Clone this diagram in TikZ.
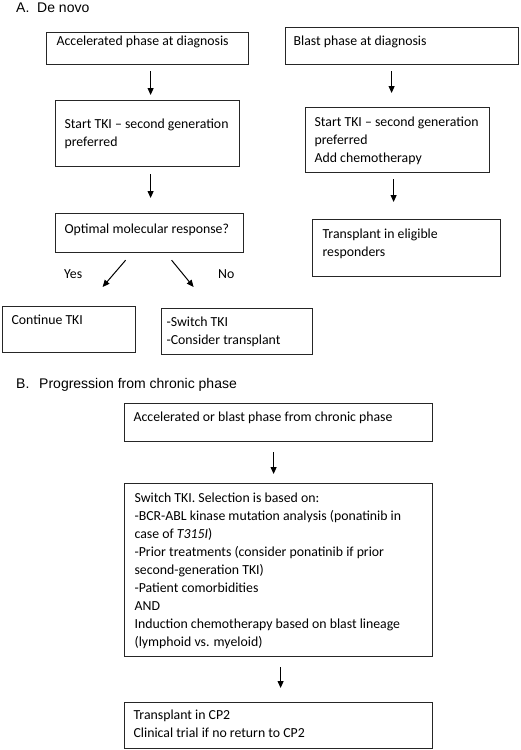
\documentclass[tikz,border=0pt]{standalone}
\usepackage{fontspec}
\setmainfont{Carlito}
\newfontfamily\arialf{Liberation Sans}
\usetikzlibrary{arrows.meta,calc}
\newcommand{\bt}[5]{\parbox[c][#2][t]{#1}{\vspace*{\dimexpr#3-12.6pt\relax}\raggedright\leftskip=#4\relax\noindent\strut #5}}
\definecolor{edge}{gray}{0.15}
\tikzset{
  box/.style={draw=edge, line width=1.2pt, inner sep=0pt, anchor=north west, font=\fontsize{13.8pt}{18pt}\selectfont},
  arr/.style={line width=1pt, -{Triangle[length=7pt,width=6pt]}},
  lbl/.style={inner sep=0pt, anchor=base west, font=\fontsize{13.8pt}{18pt}\selectfont},
  ttl/.style={inner sep=0pt, anchor=base west, font=\arialf\fontsize{14pt}{17pt}\selectfont}
}
\begin{document}
\begin{tikzpicture}[x=1pt,y=-1pt]
\useasboundingbox (0,0) rectangle (520,750);
% titles
\node[ttl] (ta) at (16,12) {A.\hspace{7.8pt}De novo};
\node[ttl] (tb) at (16,388) {B.\hspace{9.8pt}Progression from chronic phase};
% section A left
\node[box] (a1) at (46,32) {\bt{202pt}{32pt}{13pt}{10pt}{Accelerated phase at diagnosis}};
\node[box] (a2) at (55,100) {\bt{184pt}{66pt}{28pt}{9pt}{Start TKI – second generation\\preferred}};
\node[box] (a3) at (55,213) {\bt{188pt}{39pt}{20pt}{9pt}{Optimal molecular response?}};
\node[box] (cont) at (2,306) {\bt{133pt}{46pt}{18pt}{9pt}{Continue TKI}};
\node[box] (sw) at (161,308) {\bt{151pt}{46pt}{18pt}{5pt}{-Switch TKI\\-Consider transplant}};
% section A right
\node[box] (bl) at (285,27) {\bt{233pt}{37pt}{18pt}{8pt}{Blast phase at diagnosis}};
\node[box] (a2r) at (305,107) {\bt{184pt}{65pt}{19pt}{9pt}{Start TKI – second generation\\preferred\\Add chemotherapy}};
\node[box] (tr) at (312,219) {\bt{188pt}{57pt}{19pt}{10pt}{Transplant in eligible\\responders}};
% section B
\node[box] (b1) at (124,403) {\bt{308pt}{38pt}{18pt}{9pt}{Accelerated or blast phase from chronic phase}};
\node[box] (b2) at (124,483) {\bt{308pt}{173pt}{19pt}{10pt}{Switch TKI. Selection is based on:\\-BCR-ABL kinase mutation analysis (ponatinib in\\case of \textit{T315I})\\-Prior treatments (consider ponatinib if prior\\second-generation TKI)\\-Patient comorbidities\\AND\\Induction chemotherapy based on blast lineage\\(lymphoid vs. myeloid)}};
\node[box] (b3) at (124,702) {\bt{308pt}{46pt}{17pt}{9pt}{Transplant in CP2\\Clinical trial if no return to CP2}};
% labels
\node[lbl] (yes) at (64,278) {Yes};
\node[lbl] (no) at (218,278) {No};
% arrows
\draw[arr] ($(a1.south)+(3,6)$) -- ($(a2.north)+(3,-5)$);
\draw[arr] ($(a2.south)+(3,7)$) -- ($(a3.north)+(1,-15)$);
\draw[arr] ($(a3.south)+(-24,7)$) -- ($(cont.north)+(33.5,-19)$);
\draw[arr] ($(a3.south)+(22,7)$) -- ($(sw.north)+(-43.5,-21)$);
\draw[arr] ($(bl.south)+(-10.5,6)$) -- ($(a2r.north)+(-6,-14)$);
\draw[arr] ($(a2r.south)+(-4,6)$) -- ($(tr.north)+(-13,-17)$);
\draw[arr] ($(b1.south)+(-5,10)$) -- ($(b2.north)+(-5,-9)$);
\draw[arr] ($(b2.south)+(2,10)$) -- ($(b3.north)+(2,-14)$);
\end{tikzpicture}
\end{document}
